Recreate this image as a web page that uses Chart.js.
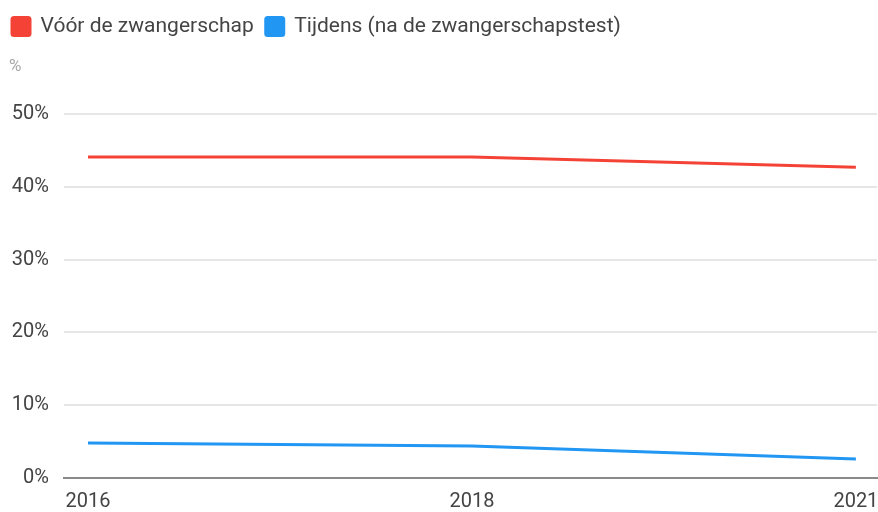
<!DOCTYPE html>
<html>
<head>
<meta charset="utf-8">
<script src="https://cdn.jsdelivr.net/npm/chart.js@4"></script>
<style>
  html, body { margin: 0; padding: 0; background: #fff; }
  #wrap { width: 878px; height: 512px; position: relative; }
</style>
</head>
<body>
<div id="wrap"><canvas id="chart"></canvas></div>
<script>
// Data
const years = ['2016', '2018', '2021'];
const voorValues = [44.1, 44.1, 42.7];
const tijdensValues = [4.8, 4.4, 2.6];
const yTicks = [0, 10, 20, 30, 40, 50];

const toPoints = (vals) => vals.map((v, i) => ({ x: i, y: v }));

// small "%" unit label above the y axis
const unitLabel = {
  id: 'unitLabel',
  afterDraw(chart) {
    const c = chart.ctx;
    c.save();
    c.fillStyle = '#a8a8a8';
    c.font = '17px Roboto';
    c.textBaseline = 'middle';
    c.fillText('%', 9, chart.chartArea.top - 47);
    c.restore();
  }
};

const ctx = document.getElementById('chart').getContext('2d');
new Chart(ctx, {
  type: 'line',
  data: {
    datasets: [{
      label: 'Vóór de zwangerschap',
      data: toPoints(voorValues),
      borderColor: '#f44336',
      backgroundColor: '#f44336',
      borderWidth: 3,
      pointRadius: 0,
      tension: 0
    }, {
      label: 'Tijdens (na de zwangerschapstest)',
      data: toPoints(tijdensValues),
      borderColor: '#2196f3',
      backgroundColor: '#2196f3',
      borderWidth: 3,
      pointRadius: 0,
      tension: 0
    }]
  },
  options: {
    responsive: true,
    maintainAspectRatio: false,
    animation: false,
    layout: { padding: { left: 0, right: 1, top: 4, bottom: 0 } },
    scales: {
      x: {
        type: 'linear',
        min: -0.0625,
        max: 2.055,
        afterBuildTicks: (scale) => {
          scale.ticks = years.map((y, i) => ({ value: i }));
        },
        afterFit: (scale) => {
          scale.paddingLeft = 0;
          scale.paddingRight = 0;
          scale.height = 34;
        },
        ticks: {
          color: '#444',
          font: { family: 'Roboto', size: 20 },
          padding: 12,
          maxRotation: 0,
          callback: (v) => years[v]
        },
        grid: { display: false, drawTicks: false },
        border: { color: '#8a8a8a', width: 2 }
      },
      y: {
        min: 0,
        max: 50,
        afterBuildTicks: (scale) => {
          scale.ticks = yTicks.map(v => ({ value: v }));
        },
        afterFit: (scale) => { scale.width = 64; },
        ticks: {
          color: '#444',
          font: { family: 'Roboto', size: 20 },
          padding: 15,
          callback: (v) => v + '%'
        },
        grid: { color: '#e6e6e6', lineWidth: 2, drawTicks: false },
        border: { display: false }
      }
    },
    plugins: {
      legend: {
        position: 'top',
        align: 'start',
        weight: 3000,
        labels: {
          color: '#444',
          font: { family: 'Roboto', size: 21 },
          boxWidth: 18,
          boxHeight: 18,
          useBorderRadius: true,
          borderRadius: 2,
          padding: 12
        }
      },
      // invisible title only reserves the space between legend and plot
      title: {
        display: true,
        text: '%',
        align: 'start',
        color: 'rgba(0,0,0,0)',
        font: { family: 'Roboto', size: 15, weight: 'normal' },
        padding: { top: 0, bottom: 49 }
      },
      tooltip: { enabled: false }
    }
  },
  plugins: [unitLabel]
});
</script>
</body>
</html>
